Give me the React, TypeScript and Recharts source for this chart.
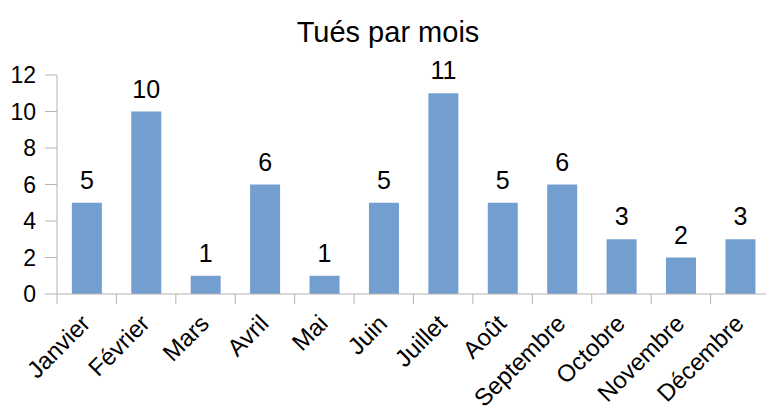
import React from 'react';
import { BarChart, Bar, XAxis, YAxis, LabelList } from 'recharts';

const months = ['Janvier', 'Février', 'Mars', 'Avril', 'Mai', 'Juin', 'Juillet', 'Août', 'Septembre', 'Octobre', 'Novembre', 'Décembre'];
const killed = [5, 10, 1, 6, 1, 5, 11, 5, 6, 3, 2, 3];
const yTicks = [0, 2, 4, 6, 8, 10, 12];

const data = months.map((m, i) => ({ month: m, value: killed[i] }));

const FONT = '"Liberation Sans", Arial, sans-serif';
const W = 780;
const H = 409;
const LEFT = 57;
const RIGHT = 10;
const BAND = (W - LEFT - RIGHT) / months.length;

const MonthTick = (props: any) => {
  const { x, y, payload } = props;
  const bx = x - BAND / 2;
  return (
    <g>
      <line x1={bx} y1={y - 8} x2={bx} y2={y + 2} stroke="#b3b3b3" />
      <text
        transform={`translate(${x + 5}, ${y + 23}) rotate(-45)`}
        textAnchor="end"
        fontSize={24}
        fontFamily={FONT}
        fill="#000"
      >
        {payload.value}
      </text>
    </g>
  );
};

export default function App() {
  return (
    <div style={{ position: 'absolute', left: 0, top: 0, width: 766, height: 409, overflow: 'hidden', background: '#fff' }}>
      <BarChart width={W} height={H} data={data} margin={{ top: 75, right: RIGHT, left: 0, bottom: 0 }} barCategoryGap="25%">
        <text x={388} y={42} textAnchor="middle" fontSize={29} fontFamily={FONT} fill="#000">
          Tués par mois
        </text>
        <XAxis
          dataKey="month"
          interval={0}
          height={115}
          stroke="#b3b3b3"
          tickLine={false}
          tick={<MonthTick />}
        />
        <YAxis
          width={LEFT}
          domain={[0, 12]}
          ticks={yTicks}
          tickSize={12}
          tickMargin={9}
          stroke="#b3b3b3"
          tick={{ fill: '#000', fontSize: 23, fontFamily: FONT }}
        />
        <Bar dataKey="value" fill="#729fcf" isAnimationActive={false}>
          <LabelList dataKey="value" position="top" offset={14} fill="#000" fontSize={25} fontFamily={FONT} />
        </Bar>
      </BarChart>
    </div>
  );
}
